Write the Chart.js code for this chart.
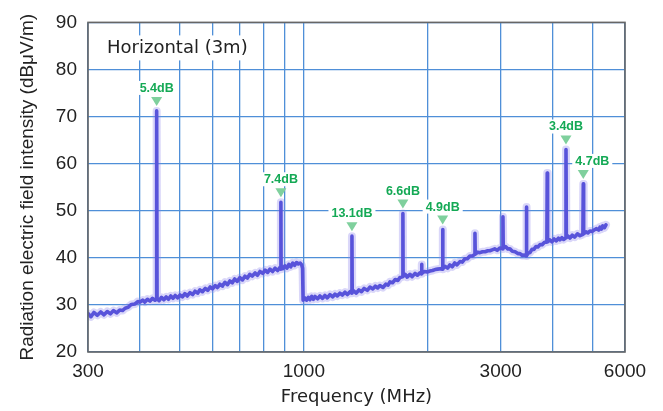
<!DOCTYPE html>
<html>
<head>
<meta charset="utf-8">
<script src="https://cdn.jsdelivr.net/npm/chart.js@4"></script>
<style>
  html, body { margin: 0; padding: 0; background: #fff; }
  #wrap { width: 663px; height: 411px; }
</style>
</head>
<body>
<div id="wrap"><canvas id="c" width="663" height="411"></canvas></div>
<script>
// ---- data ----
const freqMHz = [
  300,305,310,316,322,328,334,340,346,352,358,364,369,375,382,390,396,401,407,412,418,424,430,436,439,440,441,
  446,452,458,464,470,476,482,488,495,501,508,515,522,530,538,545,553,560,568,577,585,593,601,610,618,626,635,
  644,653,662,671,680,690,700,710,720,730,740,750,762,772,783,795,806,817,828,840,852,864,874,879,880,881,
  890,900,910,920,930,940,950,960,970,980,988,993,996,
  1005,1015,1025,1035,1045,1055,1065,1080,1094,1110,1125,1140,1157,1175,1190,1205,1223,1240,1258,1275,1294,1306,1308,1310,
  1320,1340,1360,1380,1400,1425,1446,1470,1490,1510,1529,1555,1580,1600,1617,1640,1665,1690,1709,1725,1736,1738,1740,
  1760,1780,1808,1830,1860,1885,1911,1928,1930,1932,1960,1990,2021,2050,2080,2110,2140,2167,2170,2173,
  2200,2230,2259,2290,2320,2350,2389,2420,2455,2490,2526,2560,2594,2598,2602,2640,2671,2710,2750,2790,2824,2860,2900,2940,2987,3032,3037,3042,
  3080,3120,3158,3200,3250,3300,3339,3380,3420,3456,3462,3468,3500,3531,3570,3610,3650,3690,3734,3780,3830,3880,3888,3896,
  3948,3990,4040,4090,4140,4174,4220,4260,4308,4317,4326,4370,4414,4470,4530,4600,4667,4744,4754,4764,
  4830,4880,4935,4990,5050,5120,5180,5218,5260,5300,5350,5395
];
const levelDb = [
  28.2,27.5,28.4,27.8,28.5,27.9,28.6,28.1,28.8,28.3,28.9,28.8,29.3,29.5,30.1,30.2,30.7,30.6,31.0,30.6,31.2,30.8,31.4,31.0,31.2,71.2,31.3,
  30.9,31.6,31.1,31.7,31.2,31.9,31.4,32.0,31.5,32.1,31.7,32.4,31.9,32.6,32.2,32.9,32.5,33.2,32.8,33.5,33.1,33.8,33.4,34.1,33.7,34.4,34.0,
  34.8,34.3,35.1,34.7,35.5,35.0,35.8,35.3,36.1,35.7,36.5,36.1,36.8,36.3,37.1,36.7,37.4,36.9,37.6,37.1,37.8,37.3,37.9,37.6,51.8,37.7,
  37.7,38.3,37.8,38.6,38.1,38.9,38.4,39.0,38.7,38.9,38.5,37.8,31.0,
  31.5,31.0,31.6,31.1,31.8,31.2,31.8,31.3,31.9,31.4,32.0,31.5,32.2,31.7,32.3,31.9,32.5,32.1,32.7,32.2,32.8,32.5,44.6,32.6,
  33.0,32.5,33.2,32.8,33.5,33.1,33.8,33.4,34.0,33.6,34.1,33.7,34.4,34.2,34.9,34.7,35.4,35.2,35.8,35.9,36.0,49.4,36.1,
  36.5,35.9,36.5,36.0,36.7,36.3,36.8,36.6,38.6,36.7,37.1,37.0,37.2,37.3,37.5,37.6,37.7,37.6,46.0,37.7,
  38.2,37.8,38.5,38.1,38.9,38.5,39.2,39.1,39.8,39.8,40.4,40.4,40.7,45.2,40.8,41.2,41.1,41.3,41.3,41.5,41.5,41.7,41.9,41.6,42.1,41.9,48.7,42.1,
  42.4,41.9,41.9,41.4,41.3,40.9,40.9,40.5,40.6,40.4,50.8,40.5,41.0,41.1,41.8,41.8,42.4,42.3,42.8,42.8,43.3,43.3,58.0,43.4,
  43.8,43.4,44.0,43.6,44.2,43.8,44.3,43.9,44.2,63.0,44.3,44.6,44.2,44.8,44.4,45.1,44.7,45.0,55.7,45.1,
  45.5,45.3,45.7,45.6,45.9,46.2,45.9,46.5,46.1,46.8,46.4,47.0
];

// marked peaks and their margin labels
const peakFreqs  = [440, 880, 1308, 1738, 2170, 4317, 4754];
const peakLevels = [71.2, 51.8, 44.6, 49.4, 46.0, 63.0, 55.7];
const peakLabels = ['5.4dB', '7.4dB', '13.1dB', '6.6dB', '4.9dB', '3.4dB', '4.7dB'];

// axis ticks
const xGridValues  = [300, 400, 500, 600, 700, 800, 900, 1000, 2000, 3000, 4000, 5000, 6000];
const xLabelValues = [300, 1000, 3000, 6000];
const yMin = 20, yMax = 90, yStep = 10;

const panelLabel = 'Horizontal (3m)';
const xTitle = 'Frequency (MHz)';
const yTitle = 'Radiation electric field intensity (dBμV/m)';

// ---- styles ----
const labelDx = [0, 0, 0, 0, 0, 0, 9]; // text nudge (px) for each peak label
const GRID = '#4f8fd8';
const TRACE = '#5853da';
const HALO = 'rgba(140,130,235,0.32)';
const GREEN = '#14a955';
const GREEN_TRI = '#7fd09d';

const points = freqMHz.map((f, i) => ({ x: f, y: levelDb[i] }));

const decorPlugin = {
  id: 'decor',
  afterDatasetsDraw(chart) {
    const { ctx, chartArea: a, scales: { x, y } } = chart;
    ctx.save();
    ctx.font = 'bold 12.5px "Liberation Sans", Arial, sans-serif';
    ctx.textAlign = 'center';
    ctx.textBaseline = 'middle';
    peakFreqs.forEach((f, i) => {
      const px = x.getPixelForValue(f);
      const tip = y.getPixelForValue(peakLevels[i]) - 5;
      ctx.fillStyle = GREEN_TRI;
      ctx.beginPath();
      ctx.moveTo(px, tip);
      ctx.lineTo(px - 5.5, tip - 9);
      ctx.lineTo(px + 5.5, tip - 9);
      ctx.closePath();
      ctx.fill();
      const tx = px + labelDx[i];
      const ty = tip - 18;
      const w = ctx.measureText(peakLabels[i]).width;
      ctx.fillStyle = '#fff';
      ctx.fillRect(tx - w / 2 - 3, ty - 7, w + 6, 14);
      ctx.fillStyle = GREEN;
      ctx.fillText(peakLabels[i], tx, ty + 0.5);
    });
    ctx.font = '18px "DejaVu Sans", sans-serif';
    ctx.textAlign = 'left';
    const lw = ctx.measureText(panelLabel).width;
    const lx = a.left + 19, ly = a.top + 25;
    ctx.fillStyle = '#fff';
    ctx.fillRect(lx - 6, ly - 12, lw + 12, 25);
    ctx.fillStyle = '#222';
    ctx.fillText(panelLabel, lx, ly + 1);
    ctx.strokeStyle = '#666';
    ctx.lineWidth = 1.6;
    ctx.strokeRect(a.left, a.top, a.right - a.left, a.bottom - a.top);
    ctx.restore();
  }
};

new Chart(document.getElementById('c'), {
  type: 'line',
  data: {
    datasets: [
      {
        data: points, borderColor: TRACE, borderWidth: 3.6, pointRadius: 0,
        tension: 0, borderJoinStyle: 'round', borderCapStyle: 'round', fill: false
      },
      {
        data: points, borderColor: HALO, borderWidth: 8, pointRadius: 0,
        tension: 0, borderJoinStyle: 'round', borderCapStyle: 'round', fill: false
      }
    ]
  },
  options: {
    responsive: false,
    animation: false,
    events: [],
    layout: { padding: { left: 0, right: 38, top: 18, bottom: 0 } },
    plugins: { legend: { display: false }, tooltip: { enabled: false } },
    scales: {
      x: {
        type: 'logarithmic',
        min: 300, max: 6000,
        afterBuildTicks: (s) => { s.ticks = xGridValues.map(v => ({ value: v })); },
        afterFit: (s) => { s.height = 59; },
        ticks: {
          autoSkip: false, maxRotation: 0, padding: 8, color: '#222',
          font: { family: '"Liberation Sans", Arial, sans-serif', size: 19 },
          callback: (v) => xLabelValues.includes(v) ? String(v) : ''
        },
        grid: { color: GRID, lineWidth: 1.3, drawTicks: false },
        border: { display: false },
        title: {
          display: true, text: xTitle, color: '#222',
          font: { family: '"DejaVu Sans", sans-serif', size: 18 },
          padding: { top: 0, bottom: 3 }
        }
      },
      y: {
        min: yMin, max: yMax,
        afterFit: (s) => { s.width = 88; },
        ticks: {
          stepSize: yStep, padding: 11, color: '#222',
          font: { family: '"Liberation Sans", Arial, sans-serif', size: 19 }
        },
        grid: { color: GRID, lineWidth: 1.3, drawTicks: false },
        border: { display: false },
        title: {
          display: true, text: yTitle, color: '#222',
          font: { family: '"Liberation Sans", Arial, sans-serif', size: 19 },
          padding: { top: 16, bottom: 0 }
        }
      }
    }
  },
  plugins: [decorPlugin]
});
</script>
</body>
</html>
